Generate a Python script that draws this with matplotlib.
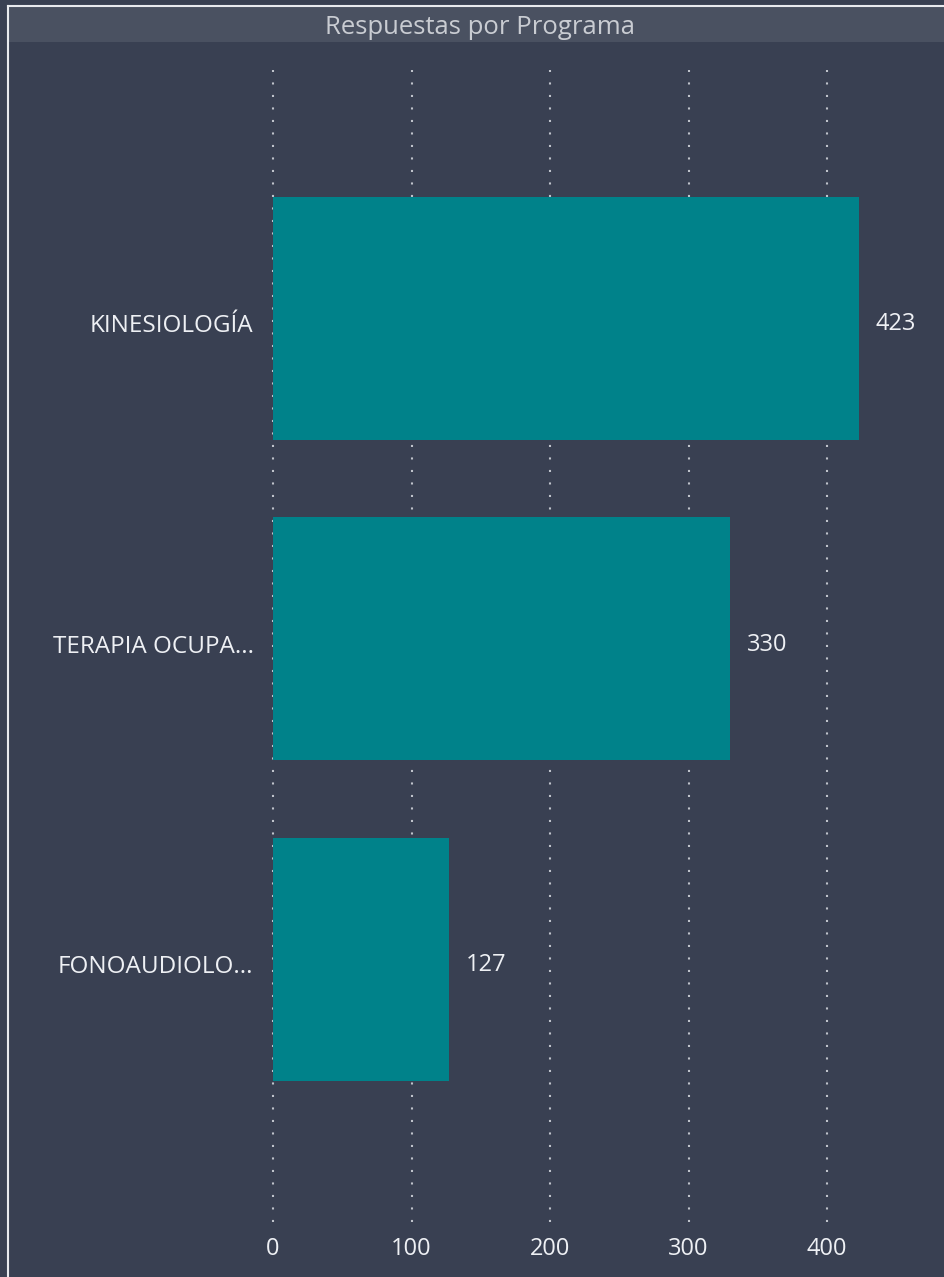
import matplotlib
matplotlib.use("Agg")
import matplotlib.pyplot as plt
from matplotlib.patches import Rectangle
from matplotlib.transforms import ScaledTranslation

categories = ["KINESIOLOGÍA", "TERAPIA OCUPA...", "FONOAUDIOLO..."]
values = [423, 330, 127]
xticks = [0, 100, 200, 300, 400]

BG = "#394052"
BAR = "#00828a"
TXT = "#eef0f4"
W, H = 944, 1277
plt.rcParams['font.family'] = ['Open Sans', 'DejaVu Sans']

fig = plt.figure(figsize=(W / 100, H / 100), dpi=100, facecolor=BG)

# title bar & border
fig.patches.append(Rectangle((8 / W, 1 - 42 / H), (W - 8) / W, 36 / H,
                             transform=fig.transFigure, facecolor="#4a5161",
                             edgecolor="none", zorder=0))
fig.lines.append(plt.Line2D([8 / W, 8 / W], [0, 1 - 6 / H], transform=fig.transFigure,
                            color="#e8eaee", lw=1.5))
fig.lines.append(plt.Line2D([8 / W, 1], [1 - 6 / H, 1 - 6 / H], transform=fig.transFigure,
                            color="#e8eaee", lw=1.5))
fig.text(480 / W, 1 - 27 / H, "Respuestas por Programa", ha="center", va="center",
         color="#c9ccd2", fontsize=18.5)

left, right = 273, 940
top, bottom = 70, 1222
ax = fig.add_axes([left / W, 1 - bottom / H, (right - left) / W, (bottom - top) / H])
ax.set_facecolor(BG)
px_per_unit = (827 - 273) / 400
ax.set_xlim(0, (right - left) / px_per_unit)
ax.set_ylim(2.819, -0.775)

down = ScaledTranslation(0, -5 / 100, fig.dpi_scale_trans)

y = list(range(len(categories)))
ax.barh(y, values, height=0.758, color=BAR, zorder=2)
for yi, v in zip(y, values):
    t = ax.annotate(str(v), (v, yi), xytext=(12, -4), textcoords="offset points",
                    ha="left", va="center", color=TXT, fontsize=17)

ax.set_xticks(xticks)
ax.set_xticklabels([str(t) for t in xticks])
ax.set_yticks(y)
ax.set_yticklabels(categories)
ax.tick_params(axis="x", length=0, pad=11, labelsize=17, labelcolor=TXT)
ax.tick_params(axis="y", length=0, pad=14, labelsize=17.5, labelcolor=TXT)
for lab in ax.get_yticklabels():
    lab.set_transform(lab.get_transform() + down)
ax.grid(axis="x", color="#bfc3cb", linestyle=(0, (1, 5)), linewidth=1.5, zorder=1)
for gl in ax.get_xgridlines():
    gl.set_clip_on(False)
ax.set_axisbelow(True)
for s in ax.spines.values():
    s.set_visible(False)

fig.savefig("out.png", dpi=100, facecolor=BG)
